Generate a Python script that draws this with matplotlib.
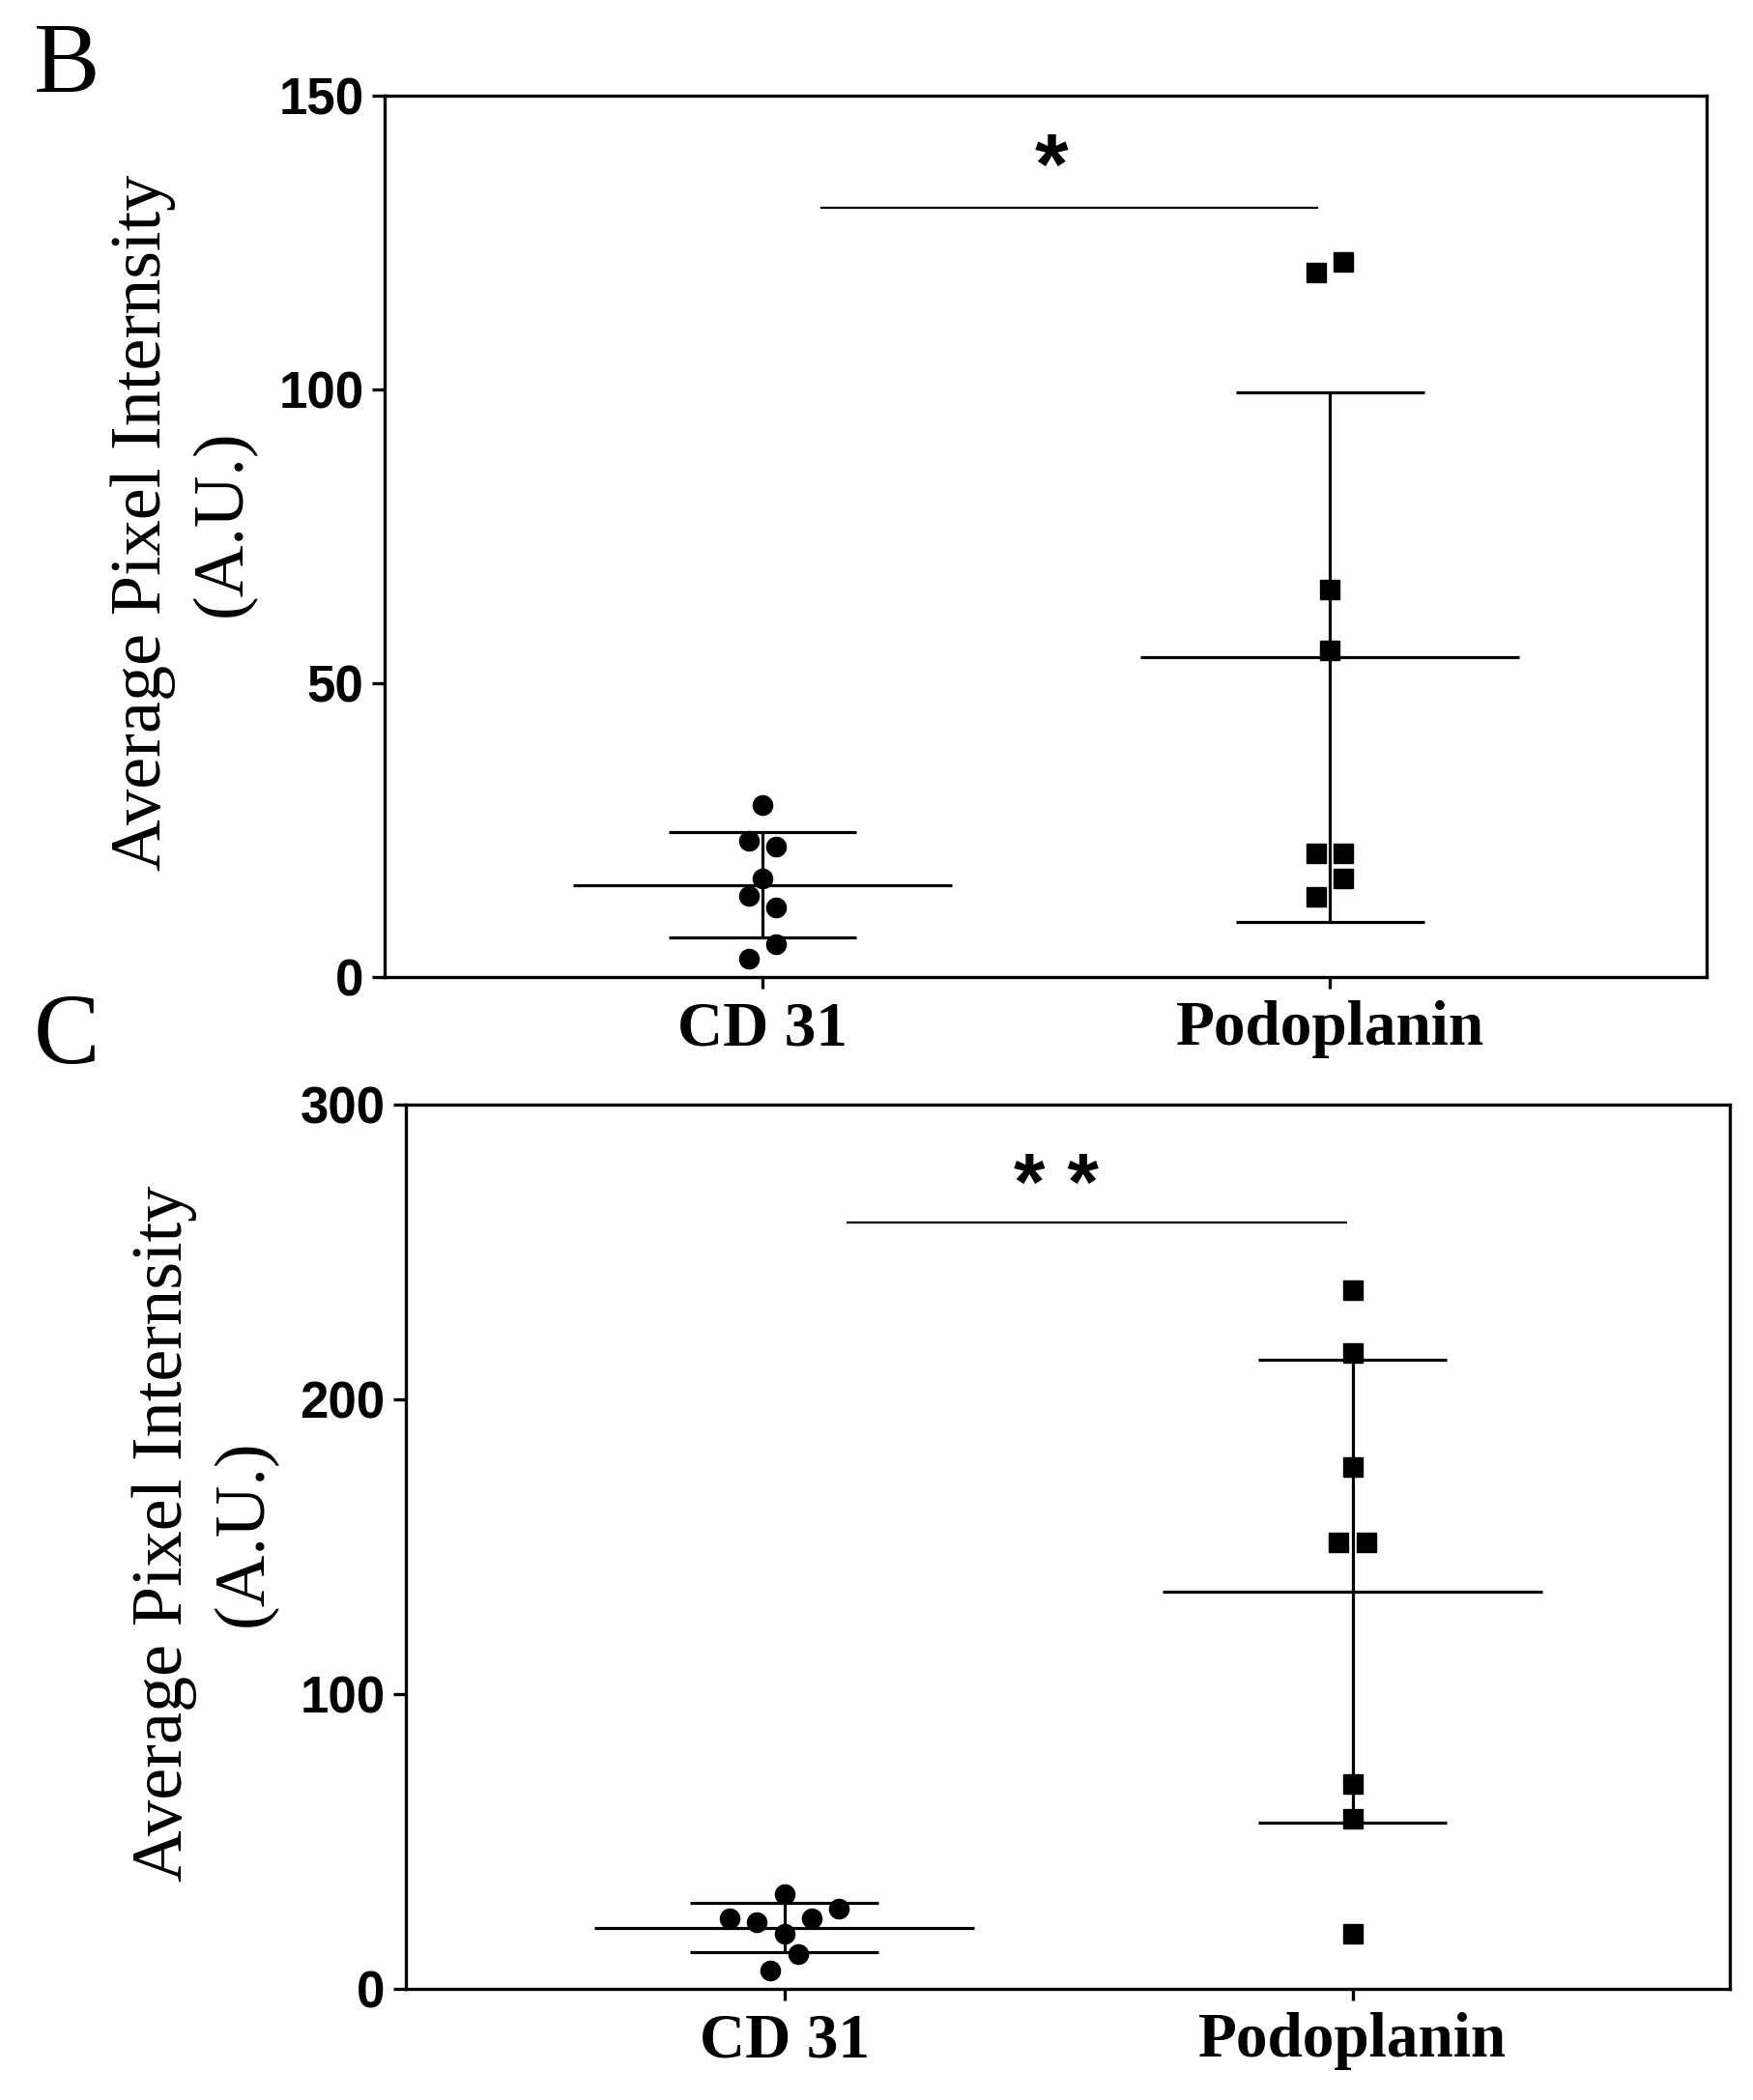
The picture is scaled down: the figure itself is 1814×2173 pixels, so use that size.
import numpy as np
import matplotlib
matplotlib.use("Agg")
import matplotlib.pyplot as plt

# ---------------- data ----------------
categories = ["CD 31", "Podoplanin"]

# Panel B: individual values (A.U.)
b_cd31 = [29.2, 23.2, 22.1, 16.7, 13.7, 11.8, 5.6, 3.0]
b_podo = [121.7, 119.9, 65.9, 55.6, 21.0, 21.0, 16.7, 13.6]
# horizontal scatter slot of each point (GraphPad-style spreading)
b_cd31_slot = [0, -1, 1, 0, -1, 1, 1, -1]
b_podo_slot = [1, -1, 0, 0, -1, 1, 1, -1]

# Panel C: individual values (A.U.)
c_cd31 = [32.0, 23.8, 22.4, 23.8, 27.1, 18.6, 11.6, 6.0]
c_podo = [237.0, 215.5, 177.0, 151.5, 151.5, 69.5, 57.5, 18.5]
c_cd31_slot = [0, -4, -2, 2, 4, 0, 1, -1]
c_podo_slot = [0, 0, 0, -1, 1, 0, 0, 0]

b_yticks = [0, 50, 100, 150]
c_yticks = [0, 100, 200, 300]

b_sig = "*"
c_sig = "* *"
b_sig_y = 131.0
c_sig_y = 260.0

ylabel = "Average Pixel Internsity\n(A.U.)"

# ---------------- style ----------------
W, H, DPI = 1814, 2173, 100
fig = plt.figure(figsize=(W / DPI, H / DPI), dpi=DPI)
fig.patch.set_facecolor("white")

SANS = ["Liberation Sans", "DejaVu Sans"]
SERIF = ["Liberation Serif", "DejaVu Serif"]
LW_AX = 2.4
LW_ERR = 2.3
SLOT = 0.024
MEAN_HW = 0.334
SD_HW = 0.166


def panel(ax, groups, slots, markers, yticks, sig_text, sig_y, sig_x, sig_fs, sig_off):
    xs = np.arange(len(categories))
    for i, (vals, slot, mk) in enumerate(zip(groups, slots, markers)):
        vals = np.asarray(vals, dtype=float)
        m = vals.mean()
        sd = vals.std(ddof=1)
        ax.hlines(m, xs[i] - MEAN_HW, xs[i] + MEAN_HW, color="black", lw=LW_ERR, zorder=2)
        ax.hlines([m - sd, m + sd], xs[i] - SD_HW, xs[i] + SD_HW, color="black", lw=LW_ERR, zorder=2)
        ax.vlines(xs[i], m - sd, m + sd, color="black", lw=LW_ERR, zorder=2)
        ax.plot(xs[i] + np.asarray(slot) * SLOT, vals, linestyle="none", marker=mk,
                ms=14.5, color="black", mec="black", zorder=3)
    ax.set_xlim(-0.666, 1.664)
    ax.set_ylim(yticks[0], yticks[-1])
    ax.set_yticks(yticks)
    ax.set_xticks(xs)
    ax.set_xticklabels(categories, fontfamily=SERIF, fontweight="bold", fontsize=47)
    for lab in ax.get_yticklabels():
        lab.set_fontfamily(SANS)
        lab.set_fontweight("bold")
        lab.set_fontsize(38)
    ax.tick_params(axis="y", direction="out", length=9.4, width=LW_AX, pad=6)
    ax.tick_params(axis="x", direction="out", length=8.6, width=LW_AX, pad=9)
    for s in ax.spines.values():
        s.set_linewidth(LW_AX)
        s.set_color("black")
    ax.set_ylabel(ylabel, fontfamily=SERIF, fontsize=53.5, linespacing=1.3)
    ax.yaxis.set_label_coords(-0.097, 0.515)
    ax.hlines(sig_y, sig_x[0], sig_x[1], color="black", lw=1.6)
    ax.text(sig_x[2], sig_y + sig_off, sig_text, ha="center",
            va="baseline", fontfamily=SANS, fontsize=sig_fs, fontweight="bold")


axB = fig.add_axes([398 / W, 1 - 1010.7 / H, 1368 / W, (1010.7 - 99.3) / H])
panel(axB, [b_cd31, b_podo], [b_cd31_slot, b_podo_slot], ["o", "s"], b_yticks,
      b_sig, b_sig_y, (0.103, 0.98, 0.509), 64, 2.5)

axC = fig.add_axes([420 / W, 1 - 2057.7 / H, 1370 / W, (2057.7 - 1142.7) / H])
panel(axC, [c_cd31, c_podo], [c_cd31_slot, c_podo_slot], ["o", "s"], c_yticks,
      c_sig, c_sig_y, (0.11, 0.99, 0.479), 60, 4.0)

fig.text(35 / W, 1 - 95 / H, "B", ha="left", va="baseline", fontfamily=SERIF, fontsize=74)
fig.text(35 / W, 1 - 1100 / H, "C", ha="left", va="baseline", fontfamily=SERIF, fontsize=74)

fig.savefig("out.png", dpi=DPI)
